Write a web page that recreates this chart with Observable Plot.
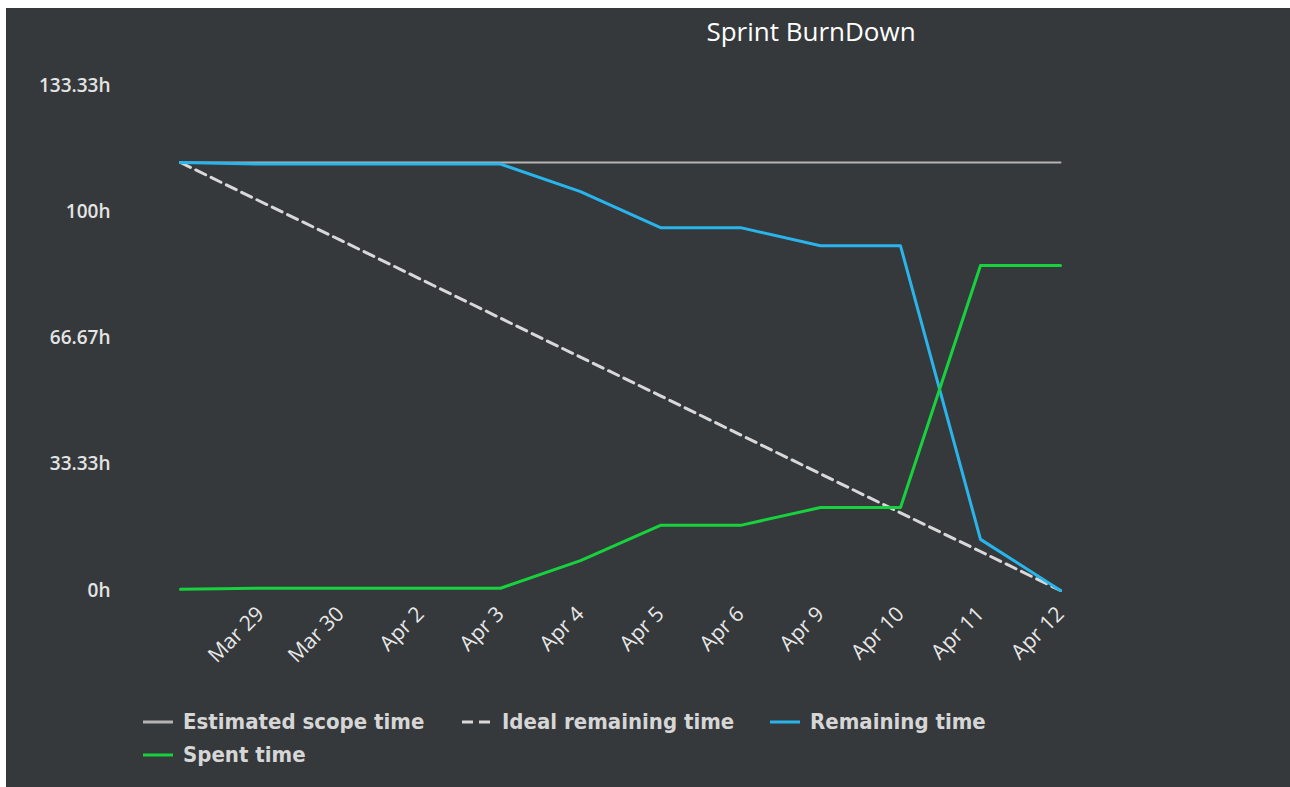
<!DOCTYPE html>
<html>
<head>
<meta charset="utf-8">
<script src="https://cdn.jsdelivr.net/npm/d3@7"></script>
<script src="https://cdn.jsdelivr.net/npm/@observablehq/plot@0.6"></script>
<style>
  html, body { margin: 0; padding: 0; background: #ffffff; width: 1290px; height: 787px; overflow: hidden; }
  #panel { position: absolute; left: 6px; top: 8px; width: 1284px; height: 779px; background: #35393c; }
  #title { position: absolute; left: 0; top: 5px; width: 1284px; text-align: center; padding-left: 326px; box-sizing: border-box;
           font-family: "Open Sans", sans-serif; font-size: 26px; color: #ffffff; }
  #chart { position: absolute; left: 0; top: 0; }
  .leg { position: absolute; display: flex; align-items: center; font-family: "Liberation Sans Narrow", "DejaVu Sans Condensed", sans-serif;
         font-weight: bold; font-size: 22px; color: #d6d6d6; white-space: nowrap; }
  .leg svg { margin-right: 10px; }
</style>
</head>
<body>
<div id="panel">
  <div id="title">Sprint BurnDown</div>
  <div id="chart"></div>
  <div id="legend"></div>
</div>
<script>
// ---- data ----
const dates = ["Mar 28", "Mar 29", "Mar 30", "Apr 2", "Apr 3", "Apr 4", "Apr 5", "Apr 6", "Apr 9", "Apr 10", "Apr 11", "Apr 12"];
const xTickLabels = ["Mar 29", "Mar 30", "Apr 2", "Apr 3", "Apr 4", "Apr 5", "Apr 6", "Apr 9", "Apr 10", "Apr 11", "Apr 12"];
const estimatedScope = [113, 113, 113, 113, 113, 113, 113, 113, 113, 113, 113, 113];
const idealRemaining = [113, 102.7, 92.5, 82.2, 71.9, 61.6, 51.4, 41.1, 30.8, 20.5, 10.3, 0];
const remaining = [113, 112.6, 112.6, 112.6, 112.6, 105.3, 95.8, 95.8, 91, 91, 13.5, 0];
const spent = [0.3, 0.6, 0.6, 0.6, 0.6, 7.9, 17.2, 17.2, 21.9, 21.9, 85.8, 85.8];
const yTicks = [0, 33.33, 66.67, 100, 133.33];
const yTickLabels = ["0h", "33.33h", "66.67h", "100h", "133.33h"];
const seriesNames = ["Estimated scope time", "Ideal remaining time", "Remaining time", "Spent time"];
const seriesColors = ["#b4b4b4", "#d8d8d8", "#29b5ec", "#17d13d"];

// ---- build rows ----
const toRows = (vals) => dates.map((d, i) => ({date: d, value: vals[i]}));

const chart = Plot.plot({
  width: 1284,
  height: 680,
  marginLeft: 170,
  marginRight: 227,
  marginTop: 77,
  marginBottom: 98,
  style: {background: "transparent", fontFamily: "Open Sans, sans-serif", color: "#e8e8e8", overflow: "visible"},
  x: {type: "point", domain: dates, padding: 0},
  y: {domain: [0, 133.33]},
  marks: [
    Plot.axisY({ticks: yTicks, tickFormat: (d) => yTickLabels[yTicks.indexOf(d)], tickSize: 0, tickPadding: 66,
      fontSize: 19, fontWeight: 600, fill: "#e4e4e4", label: null}),
    Plot.axisX({ticks: xTickLabels, tickRotate: -45, tickSize: 0, tickPadding: 20,
      fontSize: 21, fill: "#e8e8e8", label: null}),
    Plot.line(toRows(estimatedScope), {x: "date", y: "value", stroke: seriesColors[0], strokeWidth: 2}),
    Plot.line(toRows(idealRemaining), {x: "date", y: "value", stroke: seriesColors[1], strokeWidth: 3, strokeDasharray: "11,6"}),
    Plot.line(toRows(remaining), {x: "date", y: "value", stroke: seriesColors[2], strokeWidth: 3}),
    Plot.line(toRows(spent), {x: "date", y: "value", stroke: seriesColors[3], strokeWidth: 3})
  ]
});
document.getElementById("chart").appendChild(chart);

// ---- legend ----
const legendPos = [[137, 701], [456, 701], [764, 701], [137, 734]];
const legend = document.getElementById("legend");
seriesNames.forEach((name, i) => {
  const item = document.createElement("div");
  item.className = "leg";
  item.style.left = legendPos[i][0] + "px";
  item.style.top = legendPos[i][1] + "px";
  const dash = i === 1 ? 'stroke-dasharray="11,6"' : "";
  item.innerHTML = `<svg width="30" height="24"><line x1="0" x2="30" y1="12" y2="12" stroke="${seriesColors[i]}" stroke-width="3" ${dash}/></svg><span>${name}</span>`;
  legend.appendChild(item);
});
</script>
</body>
</html>
